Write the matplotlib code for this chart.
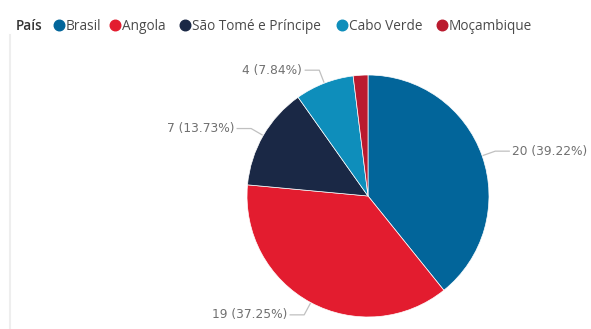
import numpy as np
import matplotlib
matplotlib.use("Agg")
import matplotlib.pyplot as plt
from matplotlib.lines import Line2D

# Country counts
paises = ["Brasil", "Angola", "São Tomé e Príncipe", "Cabo Verde", "Moçambique"]
contagem = [20, 19, 7, 4, 1]
cores = ["#02659A", "#E31C2F", "#1A2845", "#0E8EBB", "#BA1A2E"]
mostrar_rotulo = [True, True, True, True, False]

W, H, DPI = 591, 329, 100
fig = plt.figure(figsize=(W / DPI, H / DPI), dpi=DPI)
fig.patch.set_facecolor("white")

# Pie axes: centre and radius in pixels
cx, cy, r = 368, 196, 121
ax = fig.add_axes([(cx - r) / W, (H - cy - r) / H, 2 * r / W, 2 * r / H])

wedges, _ = ax.pie(contagem, colors=cores, startangle=90, counterclock=False,
                   radius=1.0, wedgeprops=dict(edgecolor="white", linewidth=0.5))
ax.set_xlim(-1, 1)
ax.set_ylim(-1, 1)
ax.set_aspect("equal")
ax.axis("off")

total = sum(contagem)
cinza = "#707070"
for w, n, show in zip(wedges, contagem, mostrar_rotulo):
    if not show:
        continue
    ang = np.deg2rad((w.theta1 + w.theta2) / 2)
    p0 = np.array([np.cos(ang), np.sin(ang)]) * 1.01
    p1 = np.array([np.cos(ang), np.sin(ang)]) * 1.115
    side = 1 if np.cos(ang) > 0 else -1
    p2 = p1 + np.array([side * 14 / r, 0])
    ax.add_line(Line2D([p0[0], p1[0], p2[0]], [p0[1], p1[1], p2[1]],
                       color="#c0c0c0", lw=0.9, clip_on=False))
    txt = f"{n} ({100 * n / total:.2f}%)"
    ax.text(p2[0] + side * 3 / r, p2[1], txt, ha="left" if side > 0 else "right",
            va="center", fontsize=8.8, color=cinza, family="DejaVu Sans",
            clip_on=False)

# Legend row along the top (marker centres in pixels)
y_leg = 1 - 25 / H
y_txt = 1 - 26.5 / H
marcador_x = [58.5, 115, 185, 342, 442]
fig.text(16 / W, y_txt, "País", fontsize=9.8, color="#333333",
         family="Open Sans", fontweight="semibold", va="center", ha="left")
for nome, cor, mx in zip(paises, cores, marcador_x):
    fig.add_artist(Line2D([mx / W], [y_leg], marker="o", markersize=7.6,
                          color=cor, linestyle="none", transform=fig.transFigure))
    fig.text((mx + 7) / W, y_txt, nome, fontsize=9.8, color="#4a4a4a",
             family="Open Sans", va="center", ha="left")

# Faint left edge
fig.add_artist(Line2D([10 / W, 10 / W], [0, 1 - 35 / H], color="#eeeeee",
                      lw=1.5, transform=fig.transFigure))

fig.savefig("out.png", dpi=DPI, facecolor="white")
